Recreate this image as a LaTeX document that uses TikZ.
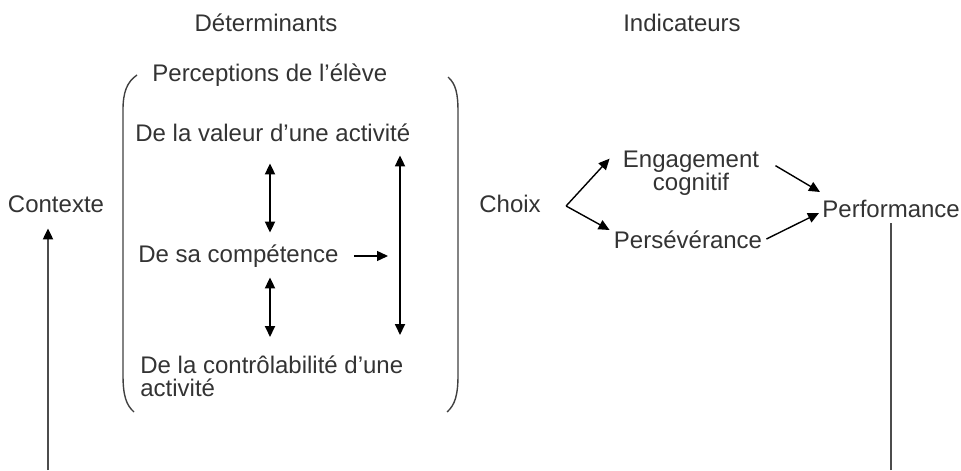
\documentclass[tikz,border=0pt]{standalone}
\usepackage{fontspec}
\setmainfont{Liberation Sans}
\usetikzlibrary{arrows.meta}

\begin{document}
\begin{tikzpicture}[x=0.5pt, y=-0.5pt,
    txt/.style={inner sep=0pt, text=black!80, font=\fontsize{12}{11.5}\selectfont, text height=9pt, text depth=3pt},
    txtm/.style={inner sep=0pt, text=black!80, font=\fontsize{12}{11.5}\selectfont},
    fl/.style={line width=0.7pt, -{Triangle[length=5.5pt,width=5pt,color=black]}},
    dfl/.style={line width=0.9pt, {Triangle[length=5.5pt,width=5pt]}-{Triangle[length=5.5pt,width=5pt]}}]
    \useasboundingbox (0,0) rectangle (961,470);
    % titles
    \node[txt, anchor=base] (determ) at (266,32) {Déterminants};
    \node[txt, anchor=base] (indic) at (682,32) {Indicateurs};
    % determinants
    \node[txt, anchor=base] (contexte) at (56,212) {Contexte};
    \node[txt, anchor=base west] (percep) at (152,82) {Perceptions de l'élève};
    \node[txt, anchor=base west] (valeur) at (135,142) {De la valeur d'une activité};
    \node[txt, anchor=base west] (comp) at (138,262) {De sa compétence};
    \node[txtm, align=left, anchor=north west] (contro) at (140,355) {De la contrôlabilité d'une\\activité};
    % indicators
    \node[txt, anchor=base] (choix) at (510,212) {Choix};
    \node[txtm, align=center, anchor=north] (engag) at (691,151) {Engagement\\cognitif};
    \node[txt, anchor=base] (persev) at (688,248) {Persévérance};
    \node[txt, anchor=base west] (perf) at (822,217) {Performance};
    % brackets
    \draw[line width=0.7pt, black!75] (137,75) .. controls (127,82) and (123,92) .. (123,110) -- (123,375) .. controls (123,395) and (126,405) .. (134,412);
    \draw[line width=0.7pt, black!75] (448,77) .. controls (456,84) and (458,94) .. (458,112) -- (458,375) .. controls (458,395) and (455,405) .. (447,412);
    % links between perceptions
    \coordinate (axeA) at (270,0);
    \coordinate (axeB) at (400,0);
    \draw[dfl, shorten <=7.5pt, shorten >=5.5pt] (valeur.south -| axeA) -- (comp.north -| axeA);
    \draw[dfl, shorten <=4.5pt, shorten >=9pt] (comp.south -| axeA) -- (contro.north -| axeA);
    \draw[dfl, shorten <=3.5pt, shorten >=10pt] (valeur.south -| axeB) -- (contro.north -| axeB);
    \draw[fl, shorten <=7.5pt, shorten >=6pt] (comp.east) -- (comp.east -| axeB);
    % choix -> engagement, perseverance -> performance
    \draw[fl] ([xshift=12.5pt]choix.east) -- ([xshift=-6.5pt,yshift=7.5pt]engag.west);
    \draw[fl] ([xshift=12.5pt]choix.east) -- ([xshift=-2pt,yshift=6pt]persev.west);
    \draw[fl] ([xshift=8pt,yshift=4pt]engag.east) -- ([xshift=-1pt,yshift=9.5pt]perf.west);
    \draw[fl] ([xshift=2pt,yshift=1.5pt]persev.east) -- ([xshift=-1.5pt,yshift=-1pt]perf.west);
    % feedback lines
    \coordinate (bas1) at (48,470);
    \coordinate (bas2) at (891,470);
    \draw[fl, black!70, line width=1pt, shorten >=5pt] (bas1) -- (bas1 |- contexte.south);
    \draw[black!70, line width=1pt] (bas2) -- (bas2 |- perf.south);
\end{tikzpicture}
\end{document}
